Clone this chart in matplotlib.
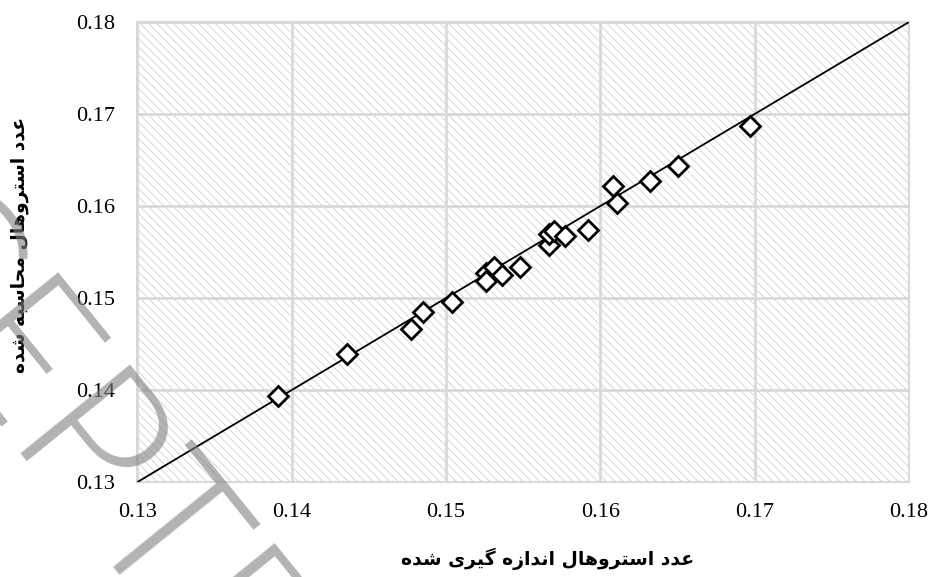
import matplotlib
matplotlib.use("Agg")
import matplotlib.pyplot as plt
from matplotlib.patches import Rectangle

# measured vs calculated Strouhal numbers
measured = [0.1391, 0.1436, 0.1477, 0.1485, 0.1504, 0.1526, 0.1526, 0.1531, 0.1536, 0.1548,
            0.1567, 0.1567, 0.1570, 0.1577, 0.1592, 0.1608, 0.1611, 0.1632, 0.1650, 0.1697]
calculated = [0.1393, 0.1439, 0.1466, 0.1485, 0.1496, 0.1527, 0.1518, 0.1534, 0.1525, 0.1534,
              0.1558, 0.1570, 0.1573, 0.1567, 0.1574, 0.1622, 0.1603, 0.1627, 0.1644, 0.1687]
line_x = [0.13, 0.18]
ticks = [0.13, 0.14, 0.15, 0.16, 0.17, 0.18]

xlabel_fa = "عدد استروهال اندازه گیری شده"
ylabel_fa = "عدد استروهال محاسبه شده"

# simple arabic shaping (matplotlib has no complex text layout)
FORMS = {  # isolated, final, initial, medial
    "ع": (0xFEC9, 0xFECA, 0xFECB, 0xFECC), "د": (0xFEA9, 0xFEAA, None, None),
    "ا": (0xFE8D, 0xFE8E, None, None), "س": (0xFEB1, 0xFEB2, 0xFEB3, 0xFEB4),
    "ت": (0xFE95, 0xFE96, 0xFE97, 0xFE98), "ر": (0xFEAD, 0xFEAE, None, None),
    "و": (0xFEED, 0xFEEE, None, None), "ه": (0xFEE9, 0xFEEA, 0xFEEB, 0xFEEC),
    "ل": (0xFEDD, 0xFEDE, 0xFEDF, 0xFEE0), "ن": (0xFEE5, 0xFEE6, 0xFEE7, 0xFEE8),
    "ز": (0xFEAF, 0xFEB0, None, None), "گ": (0xFB92, 0xFB93, 0xFB94, 0xFB95),
    "ی": (0xFBFC, 0xFBFD, 0xFBFE, 0xFBFF), "ش": (0xFEB5, 0xFEB6, 0xFEB7, 0xFEB8),
    "م": (0xFEE1, 0xFEE2, 0xFEE3, 0xFEE4), "ح": (0xFEA1, 0xFEA2, 0xFEA3, 0xFEA4),
    "ب": (0xFE8F, 0xFE90, 0xFE91, 0xFE92),
}


def shape(text):
    out = []
    for i, ch in enumerate(text):
        if ch not in FORMS:
            out.append(ch)
            continue
        prev = text[i - 1] if i > 0 else " "
        nxt = text[i + 1] if i < len(text) - 1 else " "
        joins_prev = prev in FORMS and FORMS[prev][2] is not None
        joins_next = nxt in FORMS and FORMS[ch][2] is not None
        iso, fin, ini, med = FORMS[ch]
        if joins_prev and joins_next:
            code = med
        elif joins_prev:
            code = fin
        elif joins_next:
            code = ini
        else:
            code = iso
        out.append(chr(code))
    return "".join(out)[::-1]


plt.rcParams["hatch.linewidth"] = 0.5

fig = plt.figure(figsize=(9.33, 5.77), dpi=100)
ax = fig.add_axes([0.1473, 0.1646, 0.8270, 0.7973])

# hatched plot area
bg = Rectangle((0, 0), 1, 1, transform=ax.transAxes, facecolor="white",
               edgecolor="#c9c9c9", hatch="\\\\\\\\", linewidth=0, zorder=0)
ax.add_patch(bg)

ax.plot(line_x, line_x, color="black", linewidth=1.3, zorder=3)
ax.plot(measured, calculated, linestyle="none", marker="D", markersize=10,
        markerfacecolor="white", markeredgecolor="black", markeredgewidth=2.0, zorder=4)

ax.set_xlim(0.13, 0.18)
ax.set_ylim(0.13, 0.18)
ax.set_xticks(ticks)
ax.set_yticks(ticks)
ax.set_xticklabels([f"{t:.2f}" for t in ticks])
ax.set_yticklabels([f"{t:.2f}" for t in ticks])
ax.grid(True, color="#d9d9d9", linewidth=2.0, zorder=1)
ax.set_axisbelow(True)
for s in ax.spines.values():
    s.set_color("#d9d9d9")
    s.set_linewidth(1.5)
ax.tick_params(axis="both", length=0, labelsize=16)
ax.tick_params(axis="x", pad=15)
ax.tick_params(axis="y", pad=16)
for lab in ax.get_xticklabels() + ax.get_yticklabels():
    lab.set_fontfamily("Liberation Serif")

fig.text(548 / 933, 1 - 559 / 577, shape(xlabel_fa), ha="center", va="center",
         fontsize=13.5, fontweight="bold", family=["DejaVu Sans"])
fig.text(20 / 933, 1 - 245 / 577, shape(ylabel_fa), ha="center", va="center",
         rotation=90, fontsize=13.5, fontweight="bold", family=["DejaVu Sans"])

# watermark
wx, wy = 6.6 / 933, 140.6 / 577
for txt, ha in [("ACCE", "right"), ("PTED MANUSCRIPT", "left")]:
    fig.text(wx, wy, txt, ha=ha, va="baseline", rotation=-51, rotation_mode="anchor",
             fontsize=143, family=["Lato", "DejaVu Sans"], fontweight=300,
             color="#808080", alpha=0.6, zorder=10)

fig.savefig("out.png", dpi=100)
